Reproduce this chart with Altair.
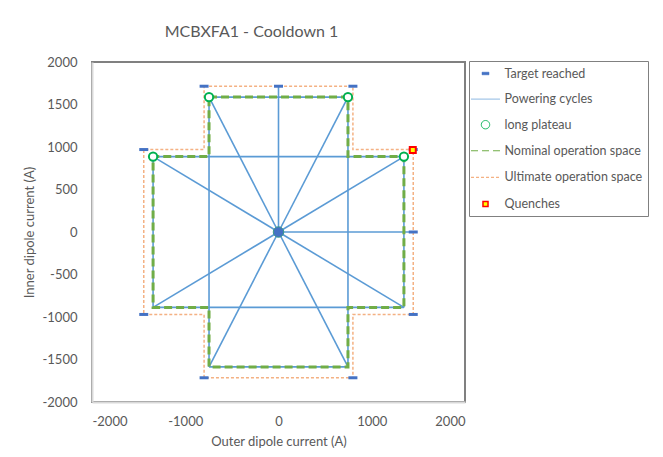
import altair as alt
import pandas as pd

# ---------------- data ----------------
# Nominal operation space (closed cross-shaped polygon)
nom_x = [-745, 745, 745, 1345, 1345, 745, 745, -745, -745, -1345, -1345, -745, -745]
nom_y = [1587, 1587, 887, 887, -887, -887, -1587, -1587, -887, -887, 887, 887, 1587]

# Ultimate operation space
ult_x = [-798, 798, 798, 1445, 1445, 798, 798, -798, -798, -1445, -1445, -798, -798]
ult_y = [1715, 1715, 970, 970, -970, -970, -1715, -1715, -970, -970, 970, 970, 1715]

# Powering cycles (segments)
seg_x1 = [0, 0, 0, 0, 0, 0, 0, 0, 0, 0, -745, 745, -1345, -1345, -745, -745, -1345, 1345]
seg_y1 = [0, 0, 0, 0, 0, 0, 0, 0, 0, 0, -1587, -1587, 887, -887, 1587, -1587, -887, -887]
seg_x2 = [-745, 745, 1345, 1345, 745, -745, -1345, -1345, 0, 1445, -745, 745, 1345, 1345, 745, 745, -1345, 1345]
seg_y2 = [1587, 1587, 887, -887, -1587, -1587, -887, 887, 1715, 0, 1587, 1587, 887, -887, 1587, -1587, 887, 887]

# Target reached
tgt_x = [-798, 0, 798, -1445, 1445, 1445, -1445, 1445, -798, 798]
tgt_y = [1715, 1715, 1715, 970, 970, 0, -970, -970, -1715, -1715]

# long plateau
plat_x = [-745, 745, -1345, 1345]
plat_y = [1587, 1587, 887, 887]

# origin point
ctr_x = [0]
ctr_y = [0]

# Quenches
q_x = [1440]
q_y = [965]

# legend
leg_labels = ["Target reached", "Powering cycles", "long plateau",
              "Nominal operation space", "Ultimate operation space", "Quenches"]
leg_stroke = ["#4472C4", "#5B9BD5", "#00B050", "#70AD47", "#F4B183", "#FF0000"]
leg_fill = ["#4472C4", "transparent", "white", "transparent", "transparent", "#FFFF00"]
leg_shape = [
    "M-0.5,-0.19H0.5V0.19H-0.5Z",
    "M-2.07,0H2.07",
    "M-0.6,0A0.6,0.6 0 1,0 0.6,0A0.6,0.6 0 1,0 -0.6,0Z",
    "M-2.07,0H2.07",
    "M-2.07,0H2.07",
    "M-0.36,-0.36H0.36V0.36H-0.36Z",
]
leg_dash = [[1, 0], [1, 0], [1, 0], [7, 4], [3, 2], [1, 0]]
leg_width = [0.5, 1.5, 2, 3, 1.2, 1.5]

# ---------------- frames ----------------
nom_df = pd.DataFrame({"x": nom_x, "y": nom_y, "i": list(range(len(nom_x)))})
ult_df = pd.DataFrame({"x": ult_x, "y": ult_y, "i": list(range(len(ult_x)))})
seg_df = pd.DataFrame({"x": seg_x1, "y": seg_y1, "x2": seg_x2, "y2": seg_y2})
tgt_df = pd.DataFrame({"x": tgt_x, "y": tgt_y})
plat_df = pd.DataFrame({"x": plat_x, "y": plat_y})
ctr_df = pd.DataFrame({"x": ctr_x, "y": ctr_y})
q_df = pd.DataFrame({"x": q_x, "y": q_y})

label_expr = "datum.value < 0 ? '-' + format(-datum.value, 'd') : format(datum.value, 'd')"

X = alt.X("x:Q",
          scale=alt.Scale(domain=[-2000, 2000], nice=False, zero=False),
          axis=alt.Axis(values=[-2000, -1000, 0, 1000, 2000],
                        title="Outer dipole current (A)",
                        labelExpr=label_expr, labelPadding=13, titlePadding=7))
Y = alt.Y("y:Q",
          scale=alt.Scale(domain=[-2000, 2000], nice=False, zero=False),
          axis=alt.Axis(values=list(range(-2000, 2001, 500)),
                        title="Inner dipole current (A)",
                        labelExpr=label_expr, labelPadding=15, titlePadding=6))

ult = alt.Chart(ult_df).mark_line(
    color="#F4B183", strokeWidth=1.5, strokeDash=[3, 2]
).encode(x=X, y=Y, order="i:Q")

cyc = alt.Chart(seg_df).mark_rule(
    color="#5B9BD5", strokeWidth=1.6
).encode(x=X, y=Y, x2="x2:Q", y2="y2:Q")

nom = alt.Chart(nom_df).mark_line(
    color="#70AD47", strokeWidth=3, strokeDash=[8, 4]
).encode(x=X, y=Y, order="i:Q")

tgt = alt.Chart(tgt_df).mark_tick(
    orient="horizontal", color="#4472C4", size=9, thickness=3, opacity=1
).encode(x=X, y=Y)

plat = alt.Chart(plat_df).mark_point(
    shape="circle", size=70, stroke="#00B050", strokeWidth=2, fill="white",
    filled=False, opacity=1
).encode(x=X, y=Y)

ctr = alt.Chart(ctr_df).mark_point(
    shape="circle", size=110, fill="#4472C4", stroke="#3a9a8a", strokeWidth=1,
    opacity=1
).encode(x=X, y=Y)

qn = alt.Chart(q_df).mark_point(
    shape="square", size=36, fill="#FFFF00", stroke="#FF0000", strokeWidth=2,
    opacity=1
).encode(x=X, y=Y)

leg_def = alt.Legend(
    title=None, orient="none", legendX=377, legendY=-1, direction="vertical",
    strokeColor="#808080", padding=5, symbolSize=196, symbolFillColor="transparent",
    symbolOpacity=1, symbolOffset=3.5, labelOffset=11,
    labelFont="Lato", labelFontSize=12.5, labelColor="#595959",
    labelLimit=0, rowPadding=11.6, fillColor="white",
)

leg = alt.Chart(alt.Data(values=[])).mark_point(opacity=1, filled=False).encode(
    stroke=alt.Stroke("series:N", scale=alt.Scale(domain=leg_labels, range=leg_stroke), legend=leg_def),
    fill=alt.Fill("series:N", scale=alt.Scale(domain=leg_labels, range=leg_fill), legend=leg_def),
    shape=alt.Shape("series:N", scale=alt.Scale(domain=leg_labels, range=leg_shape), legend=leg_def),
    strokeDash=alt.StrokeDash("series:N", scale=alt.Scale(domain=leg_labels, range=leg_dash), legend=leg_def),
    strokeWidth=alt.StrokeWidth("series:N", scale=alt.Scale(domain=leg_labels, range=leg_width), legend=leg_def),
)

chart = alt.layer(ult, cyc, nom, tgt, plat, ctr, qn, leg).properties(
    width=373,
    height=340,
    padding={"left": 84, "top": 54, "right": 190, "bottom": 47},
    autosize=alt.AutoSizeParams(type="none"),
    title=alt.TitleParams("MCBXFA1 - Cooldown 1", font="Lato", fontSize=16,
                          color="#595959", fontWeight="normal", anchor="middle",
                          dx=-27, offset=16),
).configure_view(
    stroke="#808080", strokeWidth=2
).configure_axis(
    grid=False, ticks=False, tickSize=0,
    domainColor="#D9D9D9", domainWidth=2,
    labelFont="Lato", labelFontSize=13, labelColor="#595959",
    titleFont="Lato", titleFontSize=13, titleColor="#595959", titleFontWeight="normal",
)

chart.save("out.html", embed_options={"renderer": "svg", "actions": False})
